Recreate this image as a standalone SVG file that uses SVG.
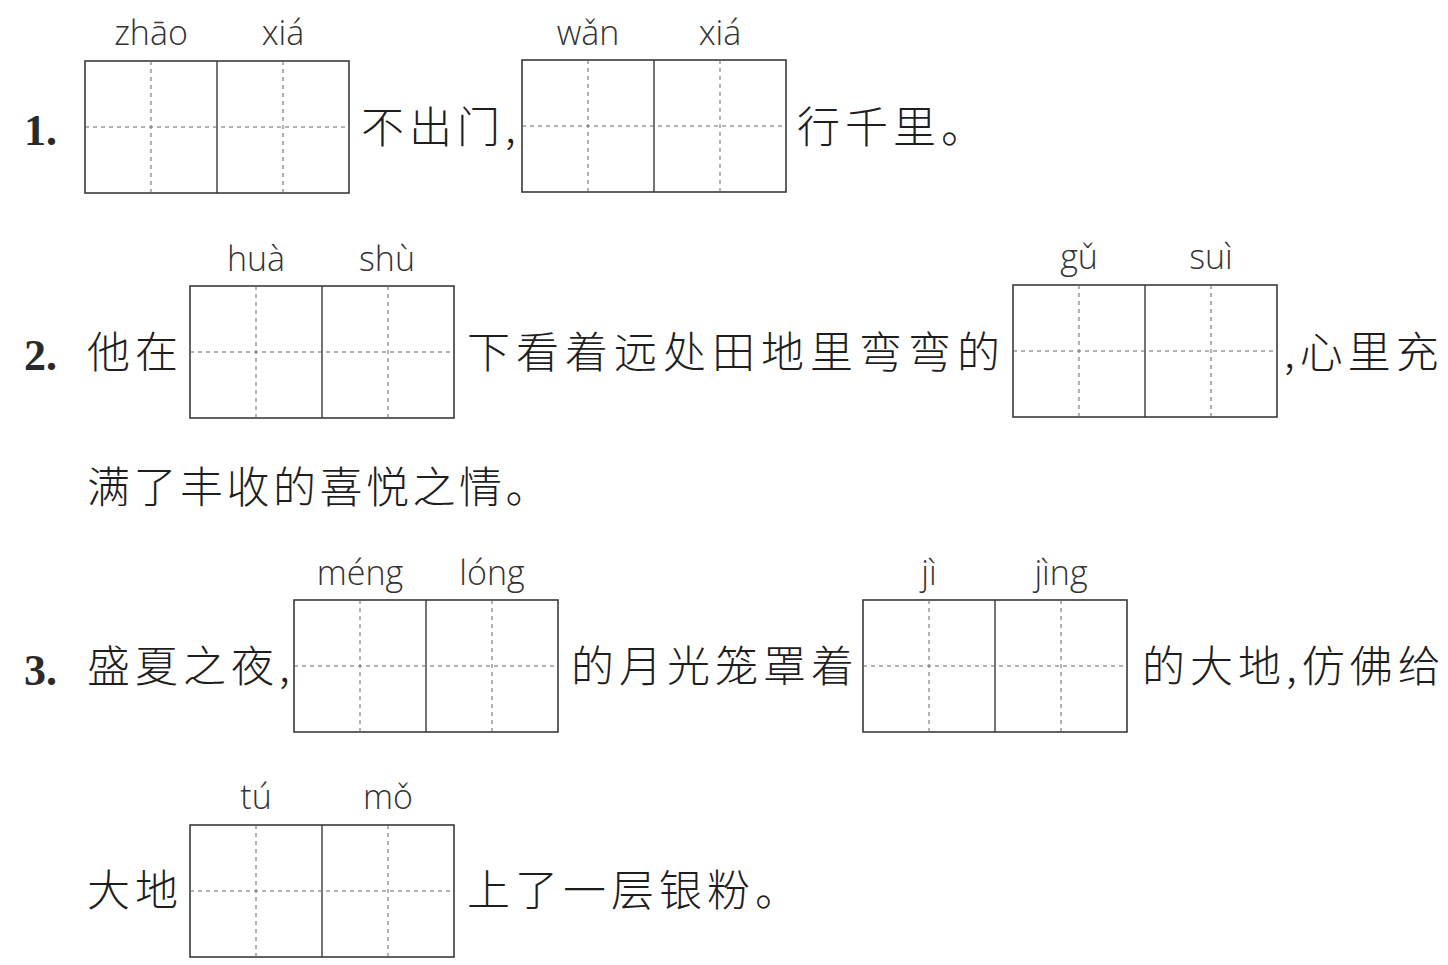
<svg xmlns="http://www.w3.org/2000/svg" width="1448" height="965" viewBox="0 0 1448 965">
<defs>
<style>
.bg{fill:#ffffff}
.box{fill:none;stroke:#3a3a3a;stroke-width:1.6}
.mid{stroke:#3a3a3a;stroke-width:1.4}
.dash{stroke:#666;stroke-width:1;stroke-dasharray:4 4}
.cn{font-family:"Noto Sans CJK SC","Noto Sans CJK JP",sans-serif;font-size:43px;font-weight:300;fill:#1e1e1e;letter-spacing:5px}
.num{font-family:"Liberation Serif",serif;font-size:44px;font-weight:bold;fill:#2a2a2a}
.py{font-family:"Open Sans","Liberation Sans",sans-serif;font-size:34px;font-weight:300;fill:#333;text-anchor:middle}
</style>
<g id="tzg">
<rect class="box" x="0" y="0" width="264" height="132"/>
<line class="mid" x1="132" y1="0" x2="132" y2="132"/>
<line class="dash" x1="0" y1="66" x2="264" y2="66"/>
<line class="dash" x1="66" y1="0" x2="66" y2="132"/>
<line class="dash" x1="198" y1="0" x2="198" y2="132"/>
</g>
</defs>
<rect class="bg" x="0" y="0" width="1448" height="965"/>

<g id="q1">
<text class="num" x="24" y="145">1.</text>
<g id="box1"><use href="#tzg" x="85" y="61"/>
<text class="py" x="151" y="45">zhāo</text><text class="py" x="283" y="45">xiá</text></g>
<text class="cn" x="361" y="143">不出门,</text>
<g id="box2"><use href="#tzg" x="522" y="60"/>
<text class="py" x="588" y="45">wǎn</text><text class="py" x="720" y="45">xiá</text></g>
<text class="cn" x="797" y="143">行千里。</text>
</g>

<g id="q2">
<text class="num" x="24" y="370">2.</text>
<text class="cn" x="87" y="368">他在</text>
<g id="box3"><use href="#tzg" x="190" y="286"/>
<text class="py" x="256" y="271">huà</text><text class="py" x="387" y="271">shù</text></g>
<text class="cn" x="467" y="368" style="letter-spacing:6px">下看着远处田地里弯弯的</text>
<g id="box4"><use href="#tzg" x="1013" y="285"/>
<text class="py" x="1079" y="269">gǔ</text><text class="py" x="1211" y="269">suì</text></g>
<text class="cn" x="1284" y="368">,心里充</text>
<text class="cn" x="87" y="503" style="letter-spacing:3.5px">满了丰收的喜悦之情。</text>
</g>

<g id="q3">
<text class="num" x="24" y="685">3.</text>
<text class="cn" x="87" y="682">盛夏之夜,</text>
<g id="box5"><use href="#tzg" x="294" y="600"/>
<text class="py" x="360" y="585">méng</text><text class="py" x="492" y="585">lóng</text></g>
<text class="cn" x="571" y="682">的月光笼罩着</text>
<g id="box6"><use href="#tzg" x="863" y="600"/>
<text class="py" x="929" y="585">jì</text><text class="py" x="1061" y="585">jìng</text></g>
<text class="cn" x="1142" y="682">的大地,仿佛给</text>
<text class="cn" x="87" y="906">大地</text>
<g id="box7"><use href="#tzg" x="190" y="825"/>
<text class="py" x="256" y="809">tú</text><text class="py" x="388" y="809">mǒ</text></g>
<text class="cn" x="467" y="906">上了一层银粉。</text>
</g>
</svg>
